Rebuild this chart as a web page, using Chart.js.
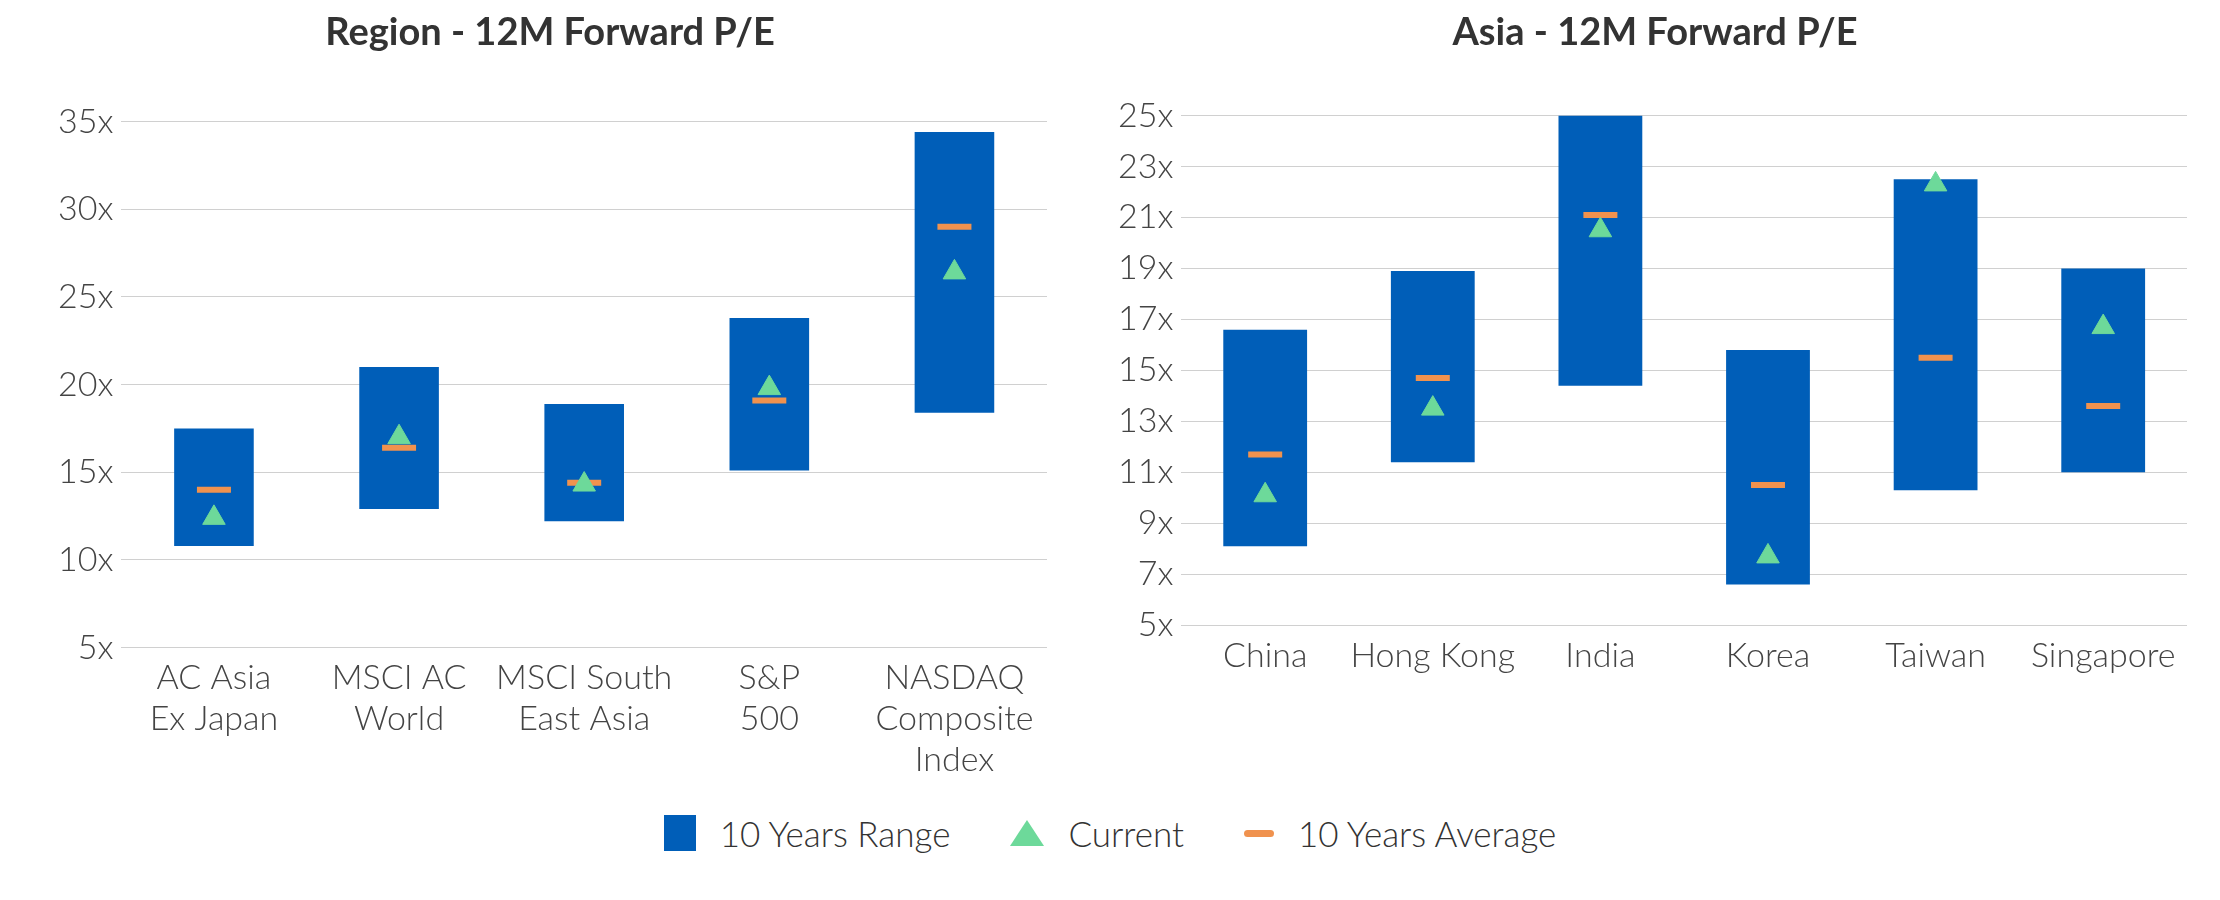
<!DOCTYPE html>
<html><head><meta charset="utf-8">
<script src="https://cdn.jsdelivr.net/npm/chart.js@4.4.1/dist/chart.umd.min.js"></script>
<style>
body{margin:0;background:#fff;width:2220px;height:900px;overflow:hidden;font-family:Lato,"Noto Sans",sans-serif;}
#c1{position:absolute;left:30px;top:0;}
#c2{position:absolute;left:1090px;top:0;}
#legend{position:absolute;top:812px;left:0;width:2220px;display:flex;justify-content:center;gap:60px;font-size:35px;color:#333;font-weight:300;}
.it{display:flex;align-items:center;gap:24px;}
</style></head><body>
<canvas id="c1" width="1040" height="790"></canvas>
<canvas id="c2" width="1120" height="790"></canvas>
<div id="legend">
<div class="it"><span style="width:32px;height:36px;background:#005EB8;display:inline-block"></span>10 Years Range</div>
<div class="it"><span style="width:0;height:0;border-left:17px solid transparent;border-right:17px solid transparent;border-bottom:26px solid #6DD99A;display:inline-block"></span>Current</div>
<div class="it"><span style="width:30px;height:7px;border-radius:4px;background:#F0924E;display:inline-block"></span>10 Years Average</div>
</div>
<script>
const regionCats=[["AC Asia","Ex Japan"],["MSCI AC","World"],["MSCI South","East Asia"],["S&P","500"],["NASDAQ","Composite","Index"]];
const regionLow=[10.8,12.9,12.2,15.1,18.4];
const regionHigh=[17.5,21.0,18.9,23.8,34.4];
const regionAvg=[14.0,16.4,14.4,19.1,29.0];
const regionCur=[12.4,17.0,14.3,19.8,26.4];
const asiaCats=["China","Hong Kong","India","Korea","Taiwan","Singapore"];
const asiaLow=[8.1,11.4,14.4,6.6,10.3,11.0];
const asiaHigh=[16.6,18.9,25.0,15.8,22.5,19.0];
const asiaAvg=[11.7,14.7,21.1,10.5,15.5,13.6];
const asiaCur=[10.1,13.5,20.5,7.7,22.3,16.7];
const regionTitle="Region - 12M Forward P/E", asiaTitle="Asia - 12M Forward P/E";

const FONT="Lato";
function make(id,title,cats,low,high,avg,cur,min,max,step,barPct,pad){
  new Chart(document.getElementById(id),{
    data:{labels:cats,datasets:[
      {type:'scatter',label:'10 Years Average',data:avg.map((v,i)=>({x:i,y:v})),pointStyle:'line',radius:17,borderColor:'#F0924E',borderWidth:6,order:1},
      {type:'scatter',label:'Current',data:cur.map((v,i)=>({x:i,y:v})),pointStyle:'triangle',radius:13,backgroundColor:'#6DD99A',borderColor:'#6DD99A',order:0},
      {type:'bar',label:'10 Years Range',data:low.map((v,i)=>[v,high[i]]),backgroundColor:'#005EB8',barPercentage:barPct,categoryPercentage:1,order:2}
    ]},
    options:{responsive:false,animation:false,
      layout:{padding:pad},
      plugins:{legend:{display:false},tooltip:{enabled:false},
        title:{display:true,text:title,color:'#333',font:{family:FONT,size:38,weight:'bold'},padding:{top:10,bottom:pad.titleGap}}},
      scales:{
        x:{type:'category',offset:true,grid:{display:false},border:{display:false},
          ticks:{color:'#444',font:{family:FONT,size:34,weight:300},maxRotation:0,autoSkip:false,padding:2}},
        y:{min:min,max:max,border:{display:false},
          grid:{color:'#d0d0d0',lineWidth:1,borderDash:[2,4],drawTicks:false},
          ticks:{stepSize:step,color:'#444',font:{family:FONT,size:34,weight:300},padding:8,callback:v=>v+'x'}}
      }}
  });
}
make('c1',regionTitle,regionCats,regionLow,regionHigh,regionAvg,regionCur,5,35,5,0.43,{left:20,right:20,top:0,bottom:8,titleGap:66});
make('c2',asiaTitle,asiaCats,asiaLow,asiaHigh,asiaAvg,asiaCur,5,25,2,0.5,{left:20,right:10,top:0,bottom:112,titleGap:60});
</script></body></html>
